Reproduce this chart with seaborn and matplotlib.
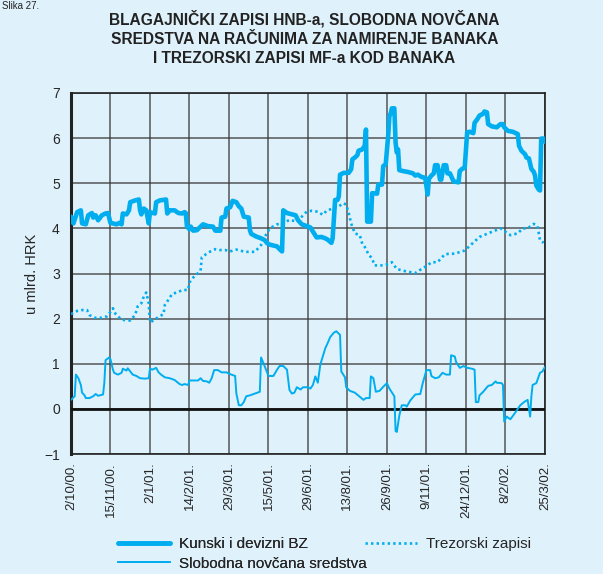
import numpy as np
import pandas as pd
import matplotlib
matplotlib.use("Agg")
import matplotlib.pyplot as plt
import seaborn as sns

# x = observation index (32 observations between labelled dates)
tick_labels = ["2/10/00.", "15/11/00.", "2/1/01.", "14/2/01.", "29/3/01.", "15/5/01.",
               "29/6/01.", "13/8/01.", "26/9/01.", "9/11/01.", "24/12/01.", "8/2/02.", "25/3/02."]

bz_x = [0, 2, 5, 8, 9, 12, 14, 17, 18, 20, 22, 25, 28, 30, 32, 34, 37, 39, 41, 42, 45, 47, 48,
        52, 55, 56, 57, 59, 61, 63, 64, 68, 69, 72, 77, 78, 80, 84, 87, 90, 92, 93, 94, 96, 97,
        99, 102, 105, 107, 111, 115, 117, 121, 122, 125, 126, 129, 131, 134, 136, 138, 140, 144,
        145, 146, 150, 154, 157, 159, 161, 167, 169, 171, 172, 175, 179, 182, 184, 187, 191, 194,
        196, 199, 203, 206, 208, 211, 212, 214, 216, 217, 218, 221, 225, 227, 228, 230, 232, 233,
        236, 237, 238, 239, 240, 243, 244, 248, 249, 252, 253, 255, 257, 258, 259, 260, 262, 263,
        264, 265, 266, 269, 273, 277, 279, 281, 284, 287, 289, 290, 292, 294, 295, 297, 299, 300,
        302, 304, 305, 307, 310, 314, 315, 317, 319, 321, 323, 326, 327, 329, 331, 334, 335, 337,
        338, 341, 345, 348, 350, 351, 354, 358, 362, 363, 365, 368, 369, 371, 373, 375, 376, 377,
        379, 380, 381, 383, 384]
bz_y = [4.26, 4.11, 4.36, 4.40, 4.11, 4.09, 4.29, 4.34, 4.24, 4.29, 4.18, 4.29, 4.33, 4.34, 4.12,
        4.11, 4.09, 4.12, 4.09, 4.33, 4.31, 4.40, 4.58, 4.62, 4.64, 4.40, 4.31, 4.44, 4.40, 4.11,
        4.36, 4.33, 4.58, 4.62, 4.64, 4.33, 4.40, 4.40, 4.34, 4.33, 4.36, 4.34, 4.04, 3.98, 4.04,
        3.95, 3.96, 4.04, 4.09, 4.05, 4.04, 3.95, 3.95, 4.24, 4.26, 4.44, 4.47, 4.61, 4.58, 4.49,
        4.44, 4.26, 4.24, 3.96, 3.88, 3.82, 3.78, 3.74, 3.67, 3.64, 3.60, 3.54, 3.49, 4.40, 4.34,
        4.31, 4.29, 4.18, 4.09, 4.05, 4.02, 3.93, 3.80, 3.81, 3.78, 3.75, 3.68, 3.78, 4.63, 4.63,
        4.71, 5.19, 5.23, 5.23, 5.31, 5.53, 5.57, 5.62, 5.72, 5.75, 5.79, 5.83, 6.19, 4.15, 4.15,
        4.78, 4.77, 4.97, 4.97, 5.38, 5.42, 6.05, 6.50, 6.54, 6.66, 6.66, 5.90, 5.68, 5.75, 5.29,
        5.27, 5.25, 5.22, 5.17, 5.19, 5.14, 5.12, 4.75, 5.10, 5.17, 5.22, 5.40, 5.40, 5.08, 5.08,
        5.40, 5.40, 5.22, 5.22, 5.04, 5.02, 5.27, 5.32, 5.34, 6.13, 6.14, 6.11, 6.34, 6.41, 6.50,
        6.54, 6.59, 6.57, 6.31, 6.26, 6.24, 6.31, 6.31, 6.24, 6.16, 6.14, 6.09, 5.83, 5.72, 5.64,
        5.57, 5.55, 5.32, 5.25, 5.17, 4.95, 4.86, 4.84, 5.99, 5.99, 5.92]

tz_x = [0, 5, 9, 13, 15, 19, 25, 29, 32, 34, 36, 40, 44, 48, 52, 54, 57, 59, 61, 63, 64, 67, 71,
        75, 76, 79, 82, 86, 90, 95, 96, 99, 103, 105, 106, 109, 113, 117, 121, 125, 129, 134, 141,
        149, 154, 157, 161, 167, 172, 177, 183, 187, 191, 195, 200, 204, 207, 211, 217, 221, 223,
        225, 227, 230, 234, 236, 238, 241, 244, 246, 250, 254, 258, 260, 264, 271, 279, 284, 289,
        292, 297, 303, 311, 319, 325, 331, 338, 348, 356, 362, 366, 370, 375, 378, 380, 383]
tz_y = [2.10, 2.17, 2.19, 2.19, 2.08, 2.02, 2.02, 2.05, 2.15, 2.23, 2.11, 2.00, 1.96, 1.96, 2.08,
        2.27, 2.34, 2.49, 2.58, 2.34, 1.92, 1.96, 2.04, 2.10, 2.30, 2.42, 2.55, 2.58, 2.63, 2.64,
        2.80, 2.91, 3.01, 3.06, 3.36, 3.42, 3.49, 3.54, 3.52, 3.52, 3.49, 3.53, 3.48, 3.48, 3.63,
        3.81, 4.00, 4.09, 4.11, 4.19, 4.15, 4.26, 4.37, 4.39, 4.37, 4.30, 4.39, 4.43, 4.49, 4.56,
        4.52, 4.34, 4.11, 3.89, 3.85, 3.66, 3.59, 3.43, 3.33, 3.18, 3.18, 3.18, 3.22, 3.25, 3.10,
        3.05, 3.01, 3.10, 3.18, 3.25, 3.25, 3.43, 3.44, 3.51, 3.66, 3.81, 3.89, 4.00, 3.85, 3.89,
        4.00, 4.00, 4.10, 4.05, 3.74, 3.68]

sn_x = [0, 3, 4, 6, 8, 9, 11, 12, 15, 18, 20, 22, 26, 27, 28, 31, 32, 34, 35, 38, 41, 42, 45, 46,
        48, 50, 53, 56, 60, 63, 64, 66, 69, 71, 73, 76, 80, 84, 88, 90, 92, 95, 96, 99, 103, 105,
        107, 110, 112, 114, 116, 119, 122, 126, 129, 133, 134, 136, 138, 140, 142, 145, 149, 153,
        154, 156, 158, 160, 164, 167, 169, 172, 175, 177, 179, 181, 183, 186, 188, 192, 194, 196,
        198, 200, 202, 206, 208, 210, 213, 215, 218, 219, 222, 223, 226, 230, 234, 237, 239, 242,
        243, 245, 247, 250, 253, 256, 258, 262, 263, 264, 266, 268, 271, 272, 275, 279, 283, 285,
        288, 291, 292, 295, 298, 301, 304, 307, 308, 311, 312, 315, 318, 321, 325, 327, 328, 330,
        331, 334, 338, 341, 344, 345, 349, 350, 351, 353, 356, 360, 364, 367, 370, 372, 373, 374,
        377, 380, 382, 384]
sn_y = [0.20, 0.28, 0.76, 0.68, 0.53, 0.36, 0.30, 0.24, 0.24, 0.28, 0.33, 0.29, 0.32, 0.57, 1.08,
        1.14, 1.10, 0.87, 0.80, 0.76, 0.80, 0.89, 0.85, 0.90, 0.83, 0.76, 0.73, 0.68, 0.67, 0.68,
        0.89, 0.87, 0.91, 0.81, 0.76, 0.70, 0.68, 0.64, 0.55, 0.53, 0.55, 0.53, 0.63, 0.63, 0.63,
        0.68, 0.62, 0.61, 0.58, 0.68, 0.86, 0.86, 0.81, 0.81, 0.77, 0.73, 0.34, 0.08, 0.08, 0.15,
        0.28, 0.30, 0.34, 0.38, 1.14, 1.01, 0.87, 0.73, 0.73, 0.87, 0.95, 0.95, 0.87, 0.42, 0.34,
        0.36, 0.48, 0.43, 0.48, 0.48, 0.45, 0.53, 0.72, 0.58, 0.98, 1.34, 1.46, 1.59, 1.69, 1.72,
        1.64, 0.83, 0.70, 0.48, 0.40, 0.36, 0.27, 0.20, 0.24, 0.24, 0.72, 0.68, 0.38, 0.40, 0.49,
        0.57, 0.45, 0.28, -0.49, -0.51, -0.15, 0.08, 0.08, 0.05, 0.19, 0.32, 0.33, 0.57, 0.86,
        0.86, 0.73, 0.68, 0.70, 0.80, 0.76, 0.76, 1.19, 1.16, 1.04, 0.91, 0.95, 0.91, 0.89, 0.87,
        0.15, 0.15, 0.30, 0.38, 0.51, 0.53, 0.61, 0.58, 0.57, 0.53, -0.28, -0.17, -0.23, -0.08,
        0.08, 0.15, 0.20, -0.17, 0.27, 0.53, 0.57, 0.80, 0.83, 0.93]

BG = "#dff1fb"
CYAN = "#00aeef"
GRID = "#3a3a3a"

sns.set_style("white", {"axes.facecolor": BG, "figure.facecolor": BG})
plt.rcParams["font.family"] = ["Liberation Sans", "DejaVu Sans"]

fig = plt.figure(figsize=(6.03, 5.74), dpi=100)
ax = fig.add_axes([0.1177, 0.209, 0.786, 0.629])

bz = pd.DataFrame({"x": bz_x, "y": bz_y})
tz = pd.DataFrame({"x": tz_x, "y": tz_y})
sn = pd.DataFrame({"x": sn_x, "y": sn_y})

sns.lineplot(data=bz, x="x", y="y", ax=ax, color=CYAN, lw=3.3, sort=False,
             estimator=None, label="Kunski i devizni BZ", legend=False, zorder=4)
sns.lineplot(data=sn, x="x", y="y", ax=ax, color=CYAN, lw=1.4, sort=False,
             estimator=None, label="Slobodna novčana sredstva", legend=False, zorder=4)
sns.lineplot(data=tz, x="x", y="y", ax=ax, color=CYAN, lw=1.9, sort=False,
             estimator=None, label="Trezorski zapisi", legend=False, zorder=4)
ax.lines[2].set_linestyle((0, (0.9, 1.2)))

ax.set_xlim(0, 384)
ax.set_ylim(-1, 7)
ax.set_xticks(np.arange(0, 385, 32))
ax.set_xticklabels(tick_labels, rotation=90, fontsize=9.5)
ax.set_yticks(range(-1, 8))
ax.tick_params(axis="y", labelsize=10, length=6, width=1, color="#222222", pad=2)
ax.tick_params(axis="x", length=3, width=1, color="#222222", pad=3)
ax.grid(True, color=GRID, lw=1.1, alpha=0.85)
ax.set_axisbelow(True)
ax.axhline(0, color="#111111", lw=2, zorder=3)
ax.set_xlabel("")
ax.set_ylabel("u mlrd. HRK", fontsize=10.5, labelpad=4)

for side, w in [("left", 2.2), ("top", 1.2), ("right", 1.2), ("bottom", 1.2)]:
    ax.spines[side].set_visible(True)
    ax.spines[side].set_color("#222222")
    ax.spines[side].set_linewidth(w)

fig.text(0.505, 0.982, "BLAGAJNIČKI ZAPISI HNB-a, SLOBODNA NOVČANA\n"
         "SREDSTVA NA RAČUNIMA ZA NAMIRENJE BANAKA\n"
         "I TREZORSKI ZAPISI MF-a KOD BANAKA",
         ha="center", va="top", fontsize=11.2, fontweight="bold",
         linespacing=1.35, color="#222222")
fig.text(0.003, 0.999, "Slika 27.", ha="left", va="top", fontsize=7, color="#222222")

h = ax.lines
leg1 = fig.legend([h[0], h[1]], ["Kunski i devizni BZ", "Slobodna novčana sredstva"],
                  loc="upper left", bbox_to_anchor=(0.195, 0.064), frameon=False,
                  fontsize=11, handlelength=3.4, handletextpad=0.6, labelspacing=0.35,
                  borderpad=0, borderaxespad=0)
fig.legend([h[2]], ["Trezorski zapisi"], loc="upper left", bbox_to_anchor=(0.605, 0.064),
           frameon=False, fontsize=11, handlelength=3.4, handletextpad=0.6,
           borderpad=0, borderaxespad=0)
fig.add_artist(leg1)

fig.savefig("out.png", dpi=100, facecolor=BG)
